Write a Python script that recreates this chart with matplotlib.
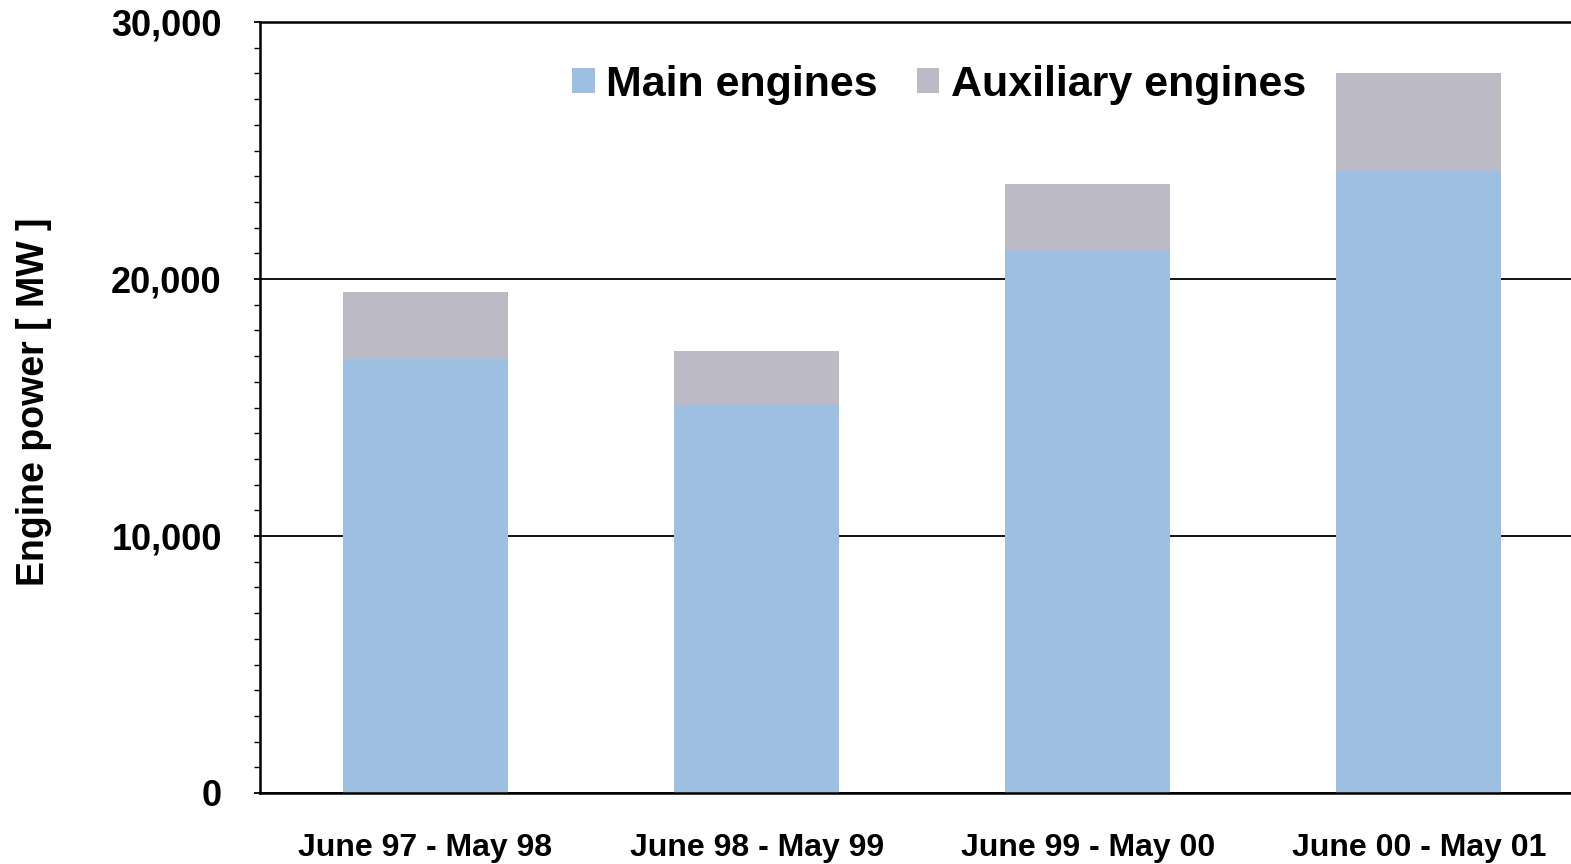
import matplotlib
matplotlib.use("Agg")
import matplotlib.pyplot as plt
from matplotlib.ticker import MultipleLocator, FuncFormatter

categories = ["June 97 - May 98", "June 98 - May 99", "June 99 - May 00", "June 00 - May 01"]
main_engines = [16900, 15100, 21100, 24200]
aux_engines = [2600, 2100, 2600, 3800]

plt.rcParams['font.family'] = ['Liberation Sans', 'DejaVu Sans']
plt.rcParams['font.weight'] = 'bold'

fig = plt.figure(figsize=(15.71, 8.64), dpi=100)
ax = fig.add_axes([260/1571, 1 - 793/864, 1 - 260/1571, (793 - 22)/864])

x = list(range(len(categories)))
ax.bar(x, main_engines, width=0.5, color="#9DC0E2", label="Main engines", zorder=2)
ax.bar(x, aux_engines, width=0.5, bottom=main_engines, color="#BBBAC5",
       label="Auxiliary engines", zorder=2)

ax.set_xlim(-0.5, 3.46)
ax.set_ylim(0, 30000)
ax.yaxis.set_major_locator(MultipleLocator(10000))
ax.yaxis.set_minor_locator(MultipleLocator(1000))
ax.yaxis.set_major_formatter(FuncFormatter(lambda v, p: f"{int(v):,}"))
ax.grid(axis='y', which='major', color='black', linewidth=1.3, zorder=1)
ax.set_axisbelow(True)

ax.set_xticks(x)
ax.set_xticklabels(categories, fontsize=23, fontweight='bold')
ax.tick_params(axis='x', length=0, pad=29)
ax.tick_params(axis='y', which='major', length=4.5, width=1.3, labelsize=26, pad=23)
ax.tick_params(axis='y', which='minor', length=4.5, width=1.0)
for lbl in ax.get_yticklabels():
    lbl.set_fontweight('bold')

ax.spines['right'].set_visible(False)
for s in ['left', 'top', 'bottom']:
    ax.spines[s].set_linewidth(1.8)

ax.set_ylabel("Engine power [ MW ]", fontsize=27, fontweight='bold')
ax.yaxis.set_label_coords(-0.1587, 0.508)

leg = ax.legend(loc='upper center', bbox_to_anchor=(0.518, 0.995), ncol=2, frameon=False,
                prop={'weight': 'bold', 'size': 31},
                handlelength=0.53, handleheight=0.53, handletextpad=0.26, columnspacing=0.9)

fig.savefig("out.png", dpi=100)
